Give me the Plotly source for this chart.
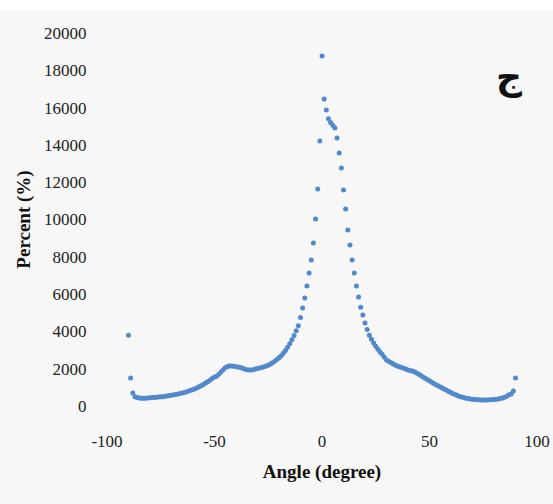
import plotly.graph_objects as go

angles = list(range(-90, 91))

percent_left = [
    3800, 1500, 700, 500, 450, 430, 420, 420, 420, 430,          # -90..-81
    440, 450, 460, 470, 480, 490, 500, 520, 540, 560,            # -80..-71
    580, 600, 620, 640, 670, 700, 730, 760, 800, 840,            # -70..-61
    880, 930, 980, 1040, 1100, 1170, 1240, 1320, 1400, 1490,     # -60..-51
    1550, 1600, 1700, 1820, 1950, 2050, 2120, 2150, 2150, 2130,  # -50..-41
    2110, 2090, 2060, 2020, 1980, 1950, 1930, 1930, 1950, 1980,  # -40..-31
    2010, 2040, 2070, 2100, 2140, 2190, 2250, 2320, 2400, 2490,  # -30..-21
    2590, 2700, 2830, 2980, 3150, 3340, 3550, 3780, 4030, 4300,  # -20..-11
    4750, 5250, 5790, 6430, 7130, 7830, 8740, 10030, 11630, 14210,  # -10..-1
]
percent_right = [
    18770, 16460, 15870, 15400, 15200, 15050, 14900, 14370, 13560, 12760,  # 0..9
    11580, 10560, 9440, 8630, 7830, 7130, 6430, 5840, 5300, 4880,          # 10..19
    4450, 4100, 3800, 3580, 3380, 3200, 3040, 2900, 2770, 2620,            # 20..29
    2470, 2400, 2330, 2260, 2200, 2150, 2100, 2060, 2020, 1980,            # 30..39
    1930, 1900, 1870, 1830, 1770, 1700, 1630, 1560, 1490, 1420,            # 40..49
    1350, 1280, 1210, 1140, 1080, 1020, 960, 900, 840, 780,                # 50..59
    720, 660, 610, 560, 510, 480, 450, 420, 400, 380,                      # 60..69
    360, 350, 340, 330, 320, 320, 320, 320, 330, 340,                      # 70..79
    350, 360, 380, 400, 430, 470, 520, 600, 650, 800,                      # 80..89
    1500,                                                                  # 90
]
percent = percent_left + percent_right

x_ticks = [-100, -50, 0, 50, 100]
y_ticks = list(range(0, 20001, 2000))

serif = "Liberation Serif"

fig = go.Figure()
fig.add_trace(go.Scatter(
    x=angles, y=percent, mode="markers",
    marker=dict(color="#5289cc", size=5, line=dict(width=0)),
    showlegend=False,
))

fig.update_layout(
    width=553, height=504,
    margin=dict(l=107, r=16, t=33, b=98),
    paper_bgcolor="#f7f7f7",
    plot_bgcolor="rgba(0,0,0,0)",
    font=dict(family=serif, color="#222222", size=17),
    xaxis=dict(
        range=[-100, 100], tickvals=x_ticks, ticktext=[str(v) for v in x_ticks],
        showgrid=False, zeroline=False, showline=False, automargin=False,
        ticklabeloverflow="allow",
        ticks="outside", ticklen=20, tickcolor="rgba(0,0,0,0)",
        tickfont=dict(family=serif, size=17, color="#222222"),
        title=dict(text="<b>Angle (degree)</b>", font=dict(family=serif, size=19, color="#111111"), standoff=14),
    ),
    yaxis=dict(
        range=[0, 20000], tickvals=y_ticks, ticktext=[str(v) for v in y_ticks],
        showgrid=False, zeroline=False, showline=False, automargin=False,
        ticks="outside", ticklen=16, tickcolor="rgba(0,0,0,0)",
        tickfont=dict(family=serif, size=17, color="#222222"),
        title=dict(text="<b>Percent (%)</b>", font=dict(family=serif, size=19, color="#111111"), standoff=8),
    ),
    annotations=[dict(
        text="<b>ج</b>", x=0.97, y=0.945, xref="paper", yref="paper",
        showarrow=False, font=dict(family="DejaVu Sans", size=36, color="#111111"),
    )],
    shapes=[dict(type="rect", xref="paper", yref="paper", x0=-0.3, x1=1.1, y0=1.061, y1=1.2,
                 fillcolor="white", line=dict(width=0), layer="below")],
)

fig.write_html("out.html")
